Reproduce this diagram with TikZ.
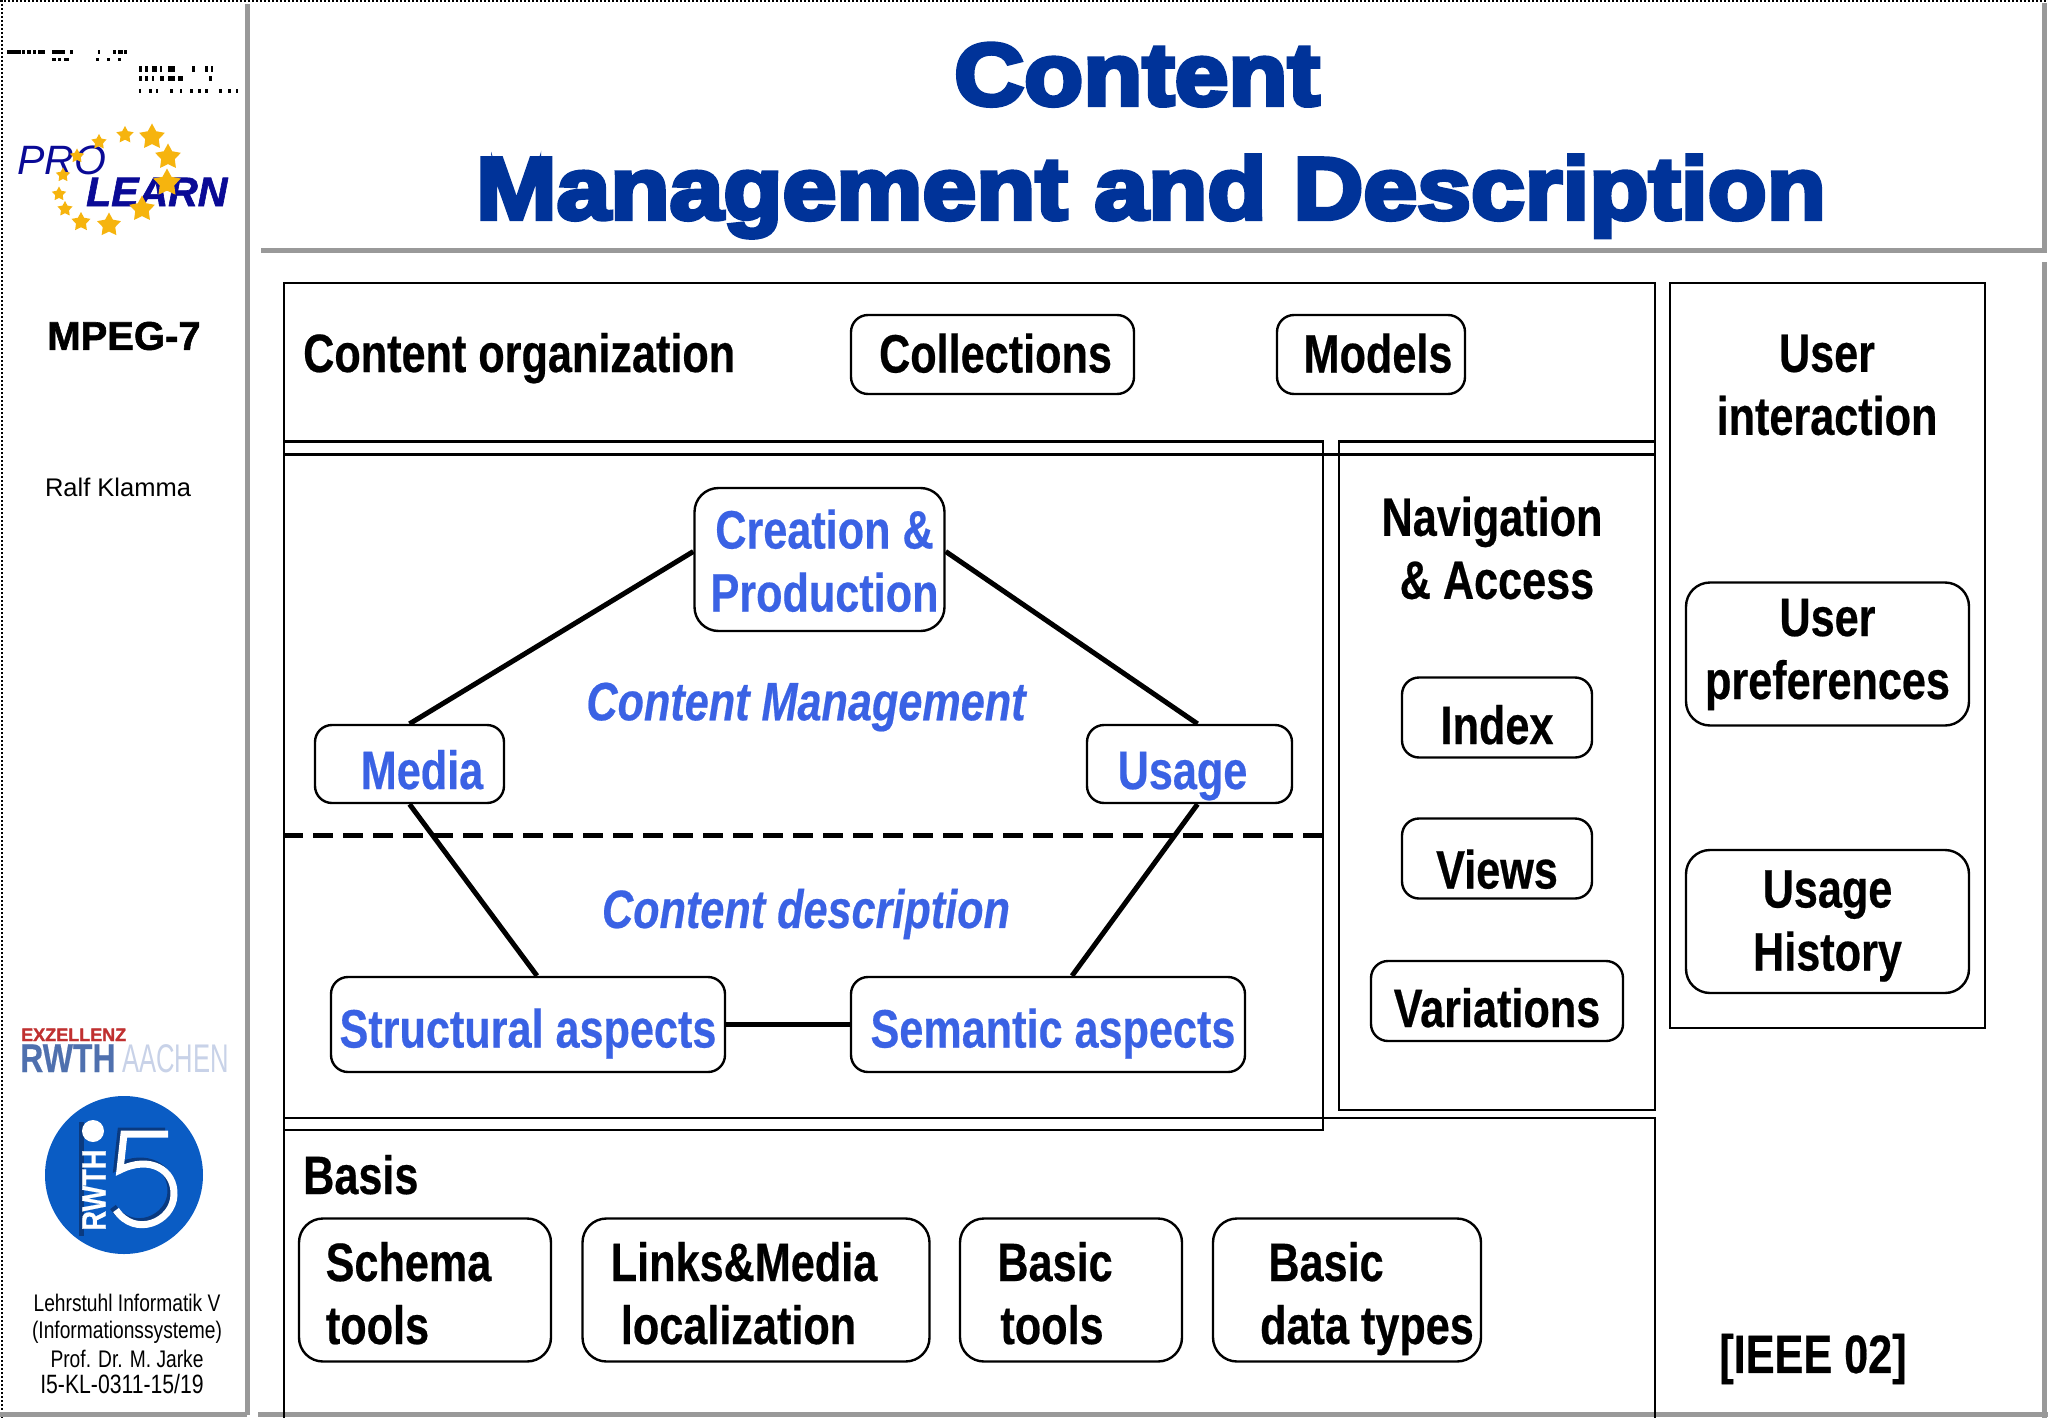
\documentclass[tikz,border=0pt]{standalone}
\usepackage{fontspec}
\usetikzlibrary{shapes.geometric}
\setmainfont{Liberation Sans}
\newfontfamily\nar[FakeStretch=0.8,FakeBold=0.4]{Liberation Sans}
\newfontfamily\nars[FakeStretch=0.8]{Liberation Sans}
\newfontfamily\aach[FakeStretch=0.64]{Liberation Sans}
\newfontfamily\lrn[FakeBold=1.5]{Liberation Sans}
\newfontfamily\ttl[FakeStretch=1.10,FakeBold=5]{Liberation Sans}
\newcommand{\topst}[1]{\rule{0pt}{#1pt}}
\newcommand{\botst}{\rule[-15pt]{0pt}{15pt}}
\definecolor{ttlblue}{HTML}{003399}
\definecolor{lblue}{HTML}{3A62E4}
\definecolor{barg}{HTML}{999999}
\definecolor{logoblue}{HTML}{0A5CC4}
\definecolor{logodark}{HTML}{0A3A80}
\definecolor{plblue}{HTML}{0A0A96}
\definecolor{stary}{HTML}{F6B40E}
\definecolor{rwthblue}{HTML}{4F70AE}
\definecolor{aachblue}{HTML}{C8D2E8}
\definecolor{exzred}{HTML}{C03030}
\tikzset{
  frame/.style={draw=black,line width=2.4pt},
  bar/.style={draw=barg,line width=5pt},
  rbox/.style={draw=black,line width=2.4pt,rounded corners=17pt,inner sep=0pt,align=center,
    font=\fontsize{54}{63}\selectfont\nar\bfseries},
  tall/.style={rounded corners=24pt},
  blue box/.style={rbox,text=lblue},
  label/.style={inner sep=0pt,align=center,font=\fontsize{54}{63}\selectfont\nar\bfseries},
  ital/.style={inner sep=0pt,text=lblue,font=\fontsize{54}{63}\selectfont\nar\bfseries\itshape},
  conn/.style={draw=black,line width=5pt},
  side/.style={inner sep=0pt,align=center,font=\fontsize{24}{28}\selectfont\nars},
  ttltext/.style={inner sep=0pt,text=ttlblue,anchor=base,font=\fontsize{88}{90}\selectfont\ttl\bfseries},
  plstar/.style={star,star points=5,star point ratio=1.9,fill=stary,inner sep=0pt},
  speck/.style={fill=black,draw=none}
}
\begin{document}
\begin{tikzpicture}[x=1pt,y=-1pt]
\useasboundingbox (0,0) rectangle (2048,1418);
\fill[white] (0,0) rectangle (2048,1418);
% page borders
\draw[dotted,line width=2pt] (0,1.5) -- (2048,1.5);
\draw[dotted,line width=2pt] (1.5,0) -- (1.5,1418);
\draw[bar] (247,4) -- (247,1415);
\draw[bar] (0,1414) -- (247,1414);
\draw[bar] (258,1414) -- (2048,1414);
\draw[bar] (261,250) -- (2044,250) -- (2044,3);
\draw[bar] (2044,262) -- (2044,1418);
% title
\node[ttltext] (t1) at (1137,105) {Content};
\node[ttltext] (t2) at (1151,219) {Management and Description};
% frames
\draw[frame] (284,454.5) rectangle (1655,283);
\draw[frame] (284,441.5) rectangle (1323,1130);
\draw[frame] (1339,441.5) rectangle (1655,1110);
\draw[frame] (284,1418) -- (284,1118) -- (1655,1118) -- (1655,1418);
\draw[frame] (1670,283) rectangle (1985,1028);
\draw[line width=5pt,dash pattern=on 20pt off 10pt] (283,835) -- (1323,835);
% boxes
\node[rbox,minimum width=283pt,minimum height=79pt,text depth=0pt,text height=36pt] (coll) at (992.5,354.5) {\hspace*{6pt}Collections};
\node[rbox,minimum width=188pt,minimum height=79pt,text depth=0pt,text height=36pt] (models) at (1371,354.5) {\hspace*{14pt}Models};
\node[blue box,tall,minimum width=250pt,minimum height=143pt] (creation) at (819.5,559.5) {\hspace*{10pt}\topst{56}Creation \&\\\hspace*{10pt}Production\botst};
\node[blue box,minimum width=189pt,minimum height=78pt,text depth=0pt,text height=50pt] (media) at (409.5,764) {\hspace*{25pt}Media};
\node[blue box,minimum width=205pt,minimum height=78pt,text depth=0pt,text height=50pt] (usage) at (1189.5,764) {Usage\hspace*{14pt}};
\node[blue box,minimum width=394pt,minimum height=95pt,text depth=0pt,text height=46pt] (struct) at (528,1024.5) {Structural aspects};
\node[blue box,minimum width=394pt,minimum height=95pt,text depth=0pt,text height=46pt] (sem) at (1048,1024.5) {\hspace*{10pt}Semantic aspects};
\node[rbox,minimum width=190pt,minimum height=80pt,text depth=0pt,text height=53pt] (index) at (1497,717.5) {Index};
\node[rbox,minimum width=190pt,minimum height=80pt,text depth=0pt,text height=60pt] (views) at (1497,858.5) {Views};
\node[rbox,minimum width=252pt,minimum height=80pt,text depth=0pt,text height=52pt] (vari) at (1497,1001) {Variations};
\node[rbox,tall,minimum width=283pt,minimum height=143pt] (upref) at (1827.5,654) {\topst{42}User\\preferences\botst};
\node[rbox,tall,minimum width=283pt,minimum height=143pt] (uhist) at (1827.5,921.5) {\topst{50}Usage\\History\botst};
\node[rbox,tall,minimum width=252pt,minimum height=143pt] (schema) at (425,1290) {\hspace*{-33pt}\topst{60}Schema\\\hspace*{-95pt}tools\botst};
\node[rbox,tall,minimum width=347pt,minimum height=143pt] (links) at (756,1290) {\hspace*{-24pt}\topst{60}Links\&Media\\\hspace*{-35pt}localization\botst};
\node[rbox,tall,minimum width=222pt,minimum height=143pt] (btools) at (1071,1290) {\hspace*{-32pt}\topst{60}Basic\\\hspace*{-38pt}tools\botst};
\node[rbox,tall,minimum width=268pt,minimum height=143pt] (bdata) at (1347,1290) {\hspace*{-42pt}\topst{60}Basic\\\hspace*{40pt}data types\botst};
% connectors
\draw[conn] ([yshift=8pt]creation.west) -- (media.north);
\draw[conn] ([yshift=8pt]creation.east) -- ([xshift=8pt]usage.north);
\draw[conn] (media.south) -- ([xshift=9pt]struct.north);
\draw[conn] ([xshift=8pt]usage.south) -- ([xshift=24pt]sem.north);
\draw[conn] (struct.east) -- (sem.west);
% labels
\node[label,anchor=base west] (corg) at (303,372) {Content organization};
\node[label] (uint) at (1827,385) {User\\interaction};
\node[label] (nav) at (1492,548) {Navigation\\\hspace*{10pt}\& Access};
\node[label,anchor=base west] (basis) at (303,1194) {Basis};
\node[ital] (cm) at (806,707) {Content Management};
\node[ital] (cd) at (806,914) {Content description};
\node[label] (ieee) at (1813,1359) {[IEEE 02]};
% side text
\node[inner sep=0pt,font=\fontsize{40}{44}\selectfont\lrn\bfseries] (mpeg) at (124,336) {MPEG-7};
\node[inner sep=0pt,font=\fontsize{25.5}{30}\selectfont] (ralf) at (118,487) {Ralf Klamma};
\node[side] (lehr) at (127,1303) {Lehrstuhl Informatik V};
\node[side] (infs) at (127,1332) {(Informationssysteme)};
\node[side] (prof) at (127,1359) {Prof. Dr. M. Jarke};
\node[side,font=\fontsize{26.5}{28}\selectfont\nars] (code) at (122,1384) {I5-KL-0311-15/19};
% specks
\foreach \x/\w in {7/14,22/3,27/4,33/3,38/7,52/4,55/7,62/3,70/3,98/2,113/3,118/5,124/3}
  \fill[speck] (\x,50) rectangle ++(\w,4);
\foreach \x/\w in {52/4,58/3,64/5,96/3,107/3,118/3}
  \fill[speck] (\x,58) rectangle ++(\w,3);
\foreach \x/\w in {139/3,145/3,152/5,160/2,168/7,192/3,205/3,211/2}
  \fill[speck] (\x,66) rectangle ++(\w,6);
\foreach \x/\w in {139/3,145/3,152/2,160/4,168/7,178/5,209/3}
  \fill[speck] (\x,76) rectangle ++(\w,5);
\foreach \x/\w in {139/2,149/3,156/2,170/3,180/2,190/3,198/3,205/3,219/3,228/3,236/2}
  \fill[speck] (\x,89) rectangle ++(\w,4);
% PRO LEARN logo
\node[inner sep=0pt,anchor=base west,text=plblue,font=\fontsize{41}{41}\selectfont\itshape] (pro) at (17,175) {PRO};
\node[inner sep=0pt,anchor=base west,text=plblue,font=\fontsize{41}{41}\selectfont\lrn\bfseries\itshape] (learn) at (86,206) {LEARN};
\foreach \n/\x/\y/\s in {a/125/135/18,b/152/137/27,c/168/157/27,d/167/183/29,e/142/209/27,f/109/225/25,g/81/222/20,h/65/209/16,i/59/194/15,j/63/175/15,k/77/156/15,l/99/142/16}
  \node[plstar,minimum size=\s pt] (star\n) at (\x,\y) {};
% RWTH logo
\node[inner sep=0pt,anchor=base west,text=exzred,font=\fontsize{18}{18}\selectfont\lrn\bfseries] (exz) at (21,1041) {EXZELLENZ};
\node[inner sep=0pt,anchor=base west,text=rwthblue,font=\fontsize{40}{40}\selectfont\nar\bfseries] (rwth) at (20,1072) {RWTH};
\node[inner sep=0pt,anchor=base west,text=aachblue,font=\fontsize{40}{40}\selectfont\aach] (aachen) at (122,1072) {AACHEN};
% i5 logo
\fill[logoblue] (124,1175) circle (79);
\fill[logodark] (79,1122) rectangle (84,1236);
\fill[white] (93,1131) circle (11);
\node[inner sep=0pt,rotate=90,text=white,font=\fontsize{34}{34}\selectfont\nar\bfseries] (rw) at (94,1190) {RWTH};
\draw[line width=7pt,color=logodark,xshift=-3pt,yshift=3pt] (168,1134) -- (124,1134) -- (120,1170) .. controls (150,1155) and (175,1170) .. (174,1195) .. controls (173,1222) and (135,1238) .. (116,1210);
\draw[line width=7pt,white] (168,1134) -- (124,1134) -- (120,1170) .. controls (150,1155) and (175,1170) .. (174,1195) .. controls (173,1222) and (135,1238) .. (116,1210);
\end{tikzpicture}
\end{document}
